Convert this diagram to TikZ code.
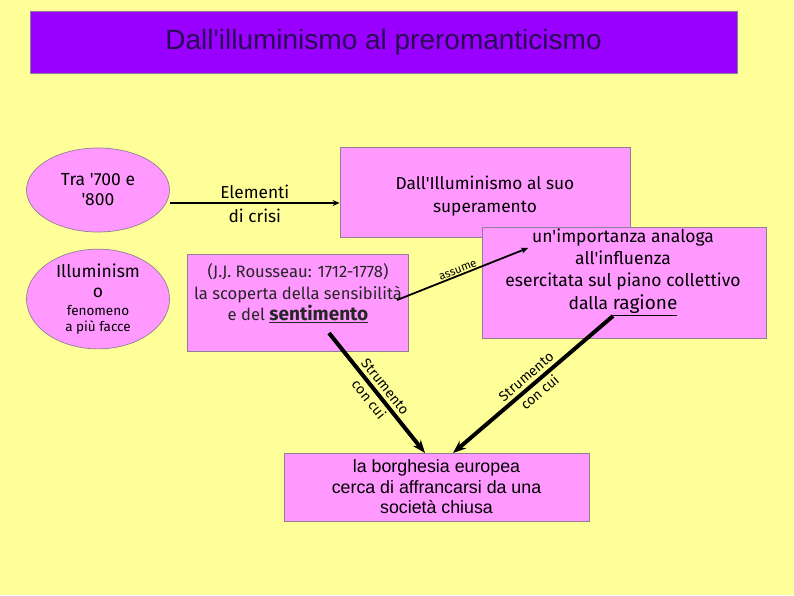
\documentclass[tikz,border=0pt]{standalone}
\usepackage{fontspec}
\setmainfont{Fira Sans}[Ligatures=TeXOff]
\newfontfamily\arialfont{Liberation Sans}[Ligatures=TeXOff]
\usetikzlibrary{arrows.meta,shapes.geometric}
\usepackage{xcolor}
\definecolor{Paper}{HTML}{FFFF99}
\definecolor{Pink}{HTML}{FF99FF}
\definecolor{Violet}{HTML}{9900FF}
\definecolor{Frame}{HTML}{8F7F96}
\definecolor{Ink}{HTML}{2A0A55}

\begin{document}
\begin{tikzpicture}[x=1pt,y=-1pt,
    box/.style={draw=Frame,fill=Pink,line width=0.8pt,inner sep=0pt},
    blob/.style={ellipse,draw=Frame,fill=Pink,line width=0.7pt,inner sep=0pt,
      minimum width=143pt,minimum height=84pt,align=center,
      font=\fontsize{17.5}{20}\selectfont},
    txt/.style={align=center,inner sep=0pt,font=\fontsize{17.3}{23}\selectfont},
    link/.style={-{Stealth[length=7pt,width=6pt]},line width=2pt},
    tool/.style={-{Stealth[length=13pt,width=10pt]},line width=4pt},
    lbl/.style={sloped,align=center,inner sep=1pt,font=\fontsize{14}{21}\selectfont}]
    % page
    \fill[Paper] (0,0) rectangle (794,595);
    % title
    \node[box,fill=Violet,minimum width=707pt,minimum height=62pt] (title) at (383.5,42)
      {\arialfont\fontsize{28}{30}\selectfont\color{Ink}Dall'illuminismo al preromanticismo};
    % ellipses
    \node[blob] (tra) at (98,190) {Tra '700 e\\'800};
    \node[blob,minimum height=82pt] (illum) at (98,299)
      {Illuminism\\o\\[-2pt]
       \fontsize{13.5}{16}\selectfont fenomeno\\[-4pt]\fontsize{13.5}{16}\selectfont a più facce};
    % boxes
    \node[box,minimum width=290pt,minimum height=90pt] (superam) at (485,192) {};
    \node[txt] (superamTxt) at (485,196.5) {Dall'Illuminismo al suo\\superamento};
    \node[box,minimum width=221pt,minimum height=97pt] (rousseau) at (297.5,302.5) {};
    \node[txt,font=\fontsize{16.6}{21.5}\selectfont,text=black!85] (rousseauTxt) at (298,293.5)
      {(J.J. Rousseau: 1712-1778)\\la scoperta della sensibilità\\
       e del {\fontsize{19}{20}\selectfont\bfseries\underline{sentimento}}};
    \node[box,minimum width=284pt,minimum height=111pt] (ragione) at (624,282.5) {};
    \node[txt,font=\fontsize{17.5}{22.3}\selectfont] (ragioneTxt) at (623,272)
      {un'importanza analoga\\all'influenza\\esercitata sul piano collettivo\\
       dalla {\fontsize{19}{20}\selectfont\underline{ragione}}};
    \node[box,minimum width=305pt,minimum height=68pt,align=center,
      font=\arialfont\fontsize{17.8}{20.5}\selectfont] (borghesia) at (436.5,487)
      {la borghesia europea\\cerca di affrancarsi da una\\società chiusa};
    % connectors
    \coordinate (crisiFrom) at (170,203);
    \draw[link] (crisiFrom) -- node[above=3pt,txt] (crisiUp) {Elementi}
      node[below=5pt,txt] (crisiDown) {di crisi} (superam.west |- crisiFrom);
    \coordinate (assumeFrom) at (397,300);
    \coordinate (assumeTo) at (528,248);
    \draw[link,line width=1.8pt] (assumeFrom) -- node[lbl,above,pos=0.48,
      font=\fontsize{11.5}{12}\selectfont] (assumeLbl) {assume} (assumeTo);
    \coordinate (sentFoot) at (329,333);
    \coordinate (leftTip) at (425,453);
    \draw[tool] (sentFoot) -- node[lbl] (toolLeft) {Strumento\\con cui} (leftTip);
    \coordinate (ragFoot) at (613,316);
    \coordinate (rightTip) at (453,453);
    \draw[tool] (ragFoot) -- node[lbl] (toolRight) {Strumento\\con cui} (rightTip);
  \end{tikzpicture}
\end{document}
